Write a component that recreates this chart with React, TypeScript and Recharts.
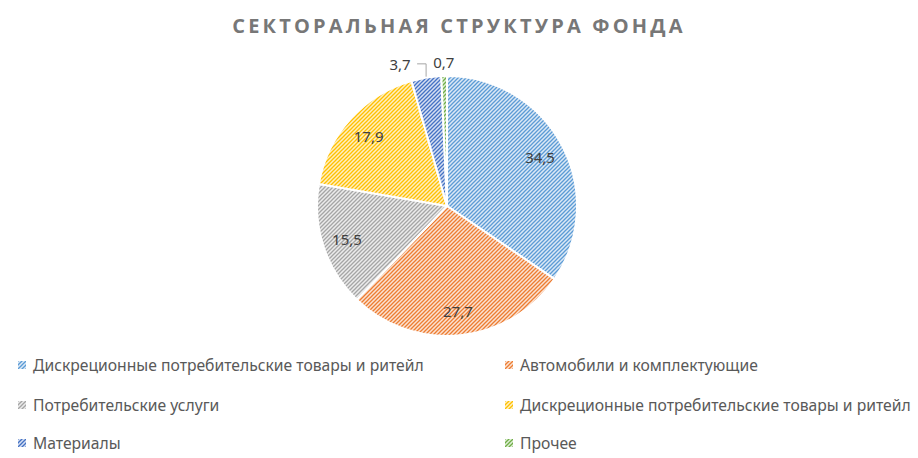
import React from "react";
import { Cell, Pie, PieChart } from "recharts";

const sectors = [
  "Дискреционные потребительские товары и ритейл",
  "Автомобили и комплектующие",
  "Потребительские услуги",
  "Дискреционные потребительские товары и ритейл",
  "Материалы",
  "Прочее",
];
const shares = [34.5, 27.7, 15.5, 17.9, 3.7, 0.7];
const lineColors = ["#5B9BD5", "#ED7D31", "#A5A5A5", "#FFC000", "#4472C4", "#70AD47"];
const backColors = ["#DCE9F6", "#FBE2D3", "#ECECEC", "#FFF0C2", "#D6DFF2", "#DFEFD6"];

const CX = 447;
const CY = 206;
const R = 130;
const RAD = Math.PI / 180;

const data = sectors.map((name, i) => ({ name, value: shares[i] }));

function fmt(v: number) {
  return v.toFixed(1).replace(".", ",");
}

function Patterns() {
  return (
    <svg width={0} height={0} style={{ position: "absolute" }}>
      <defs>
        {lineColors.map((c, i) => (
          <pattern key={i} id={"hatch" + i} width={4} height={4} patternUnits="userSpaceOnUse">
            <rect width={4} height={4} fill={backColors[i]} />
            <path d="M-1,1 l2,-2 M0,4 l4,-4 M3,5 l2,-2" stroke={c} strokeWidth={1.3} />
          </pattern>
        ))}
      </defs>
    </svg>
  );
}

const renderLabel = (props: any) => {
  const { cx, cy, midAngle, outerRadius, value, index } = props;
  const cos = Math.cos(-midAngle * RAD);
  const sin = Math.sin(-midAngle * RAD);
  let x, y;
  if (value > 5) {
    x = cx + outerRadius * 0.81 * cos;
    y = cy + outerRadius * 0.81 * sin;
  } else {
    x = cx + (outerRadius + 14) * cos;
    y = cy + (outerRadius + 14) * sin;
    if (index === 4) x -= 24;
  }
  return (
    <text
      x={x}
      y={y}
      textAnchor="middle"
      dominantBaseline="central"
      fill="#404040"
      fontSize={15}
      fontFamily="'Noto Sans', sans-serif"
    >
      {fmt(value)}
    </text>
  );
};

const renderLine = (props: any) => {
  const { cx, cy, midAngle, outerRadius, index } = props;
  if (index !== 4) return <g />;
  const cos = Math.cos(-midAngle * RAD);
  const sin = Math.sin(-midAngle * RAD);
  const ex = cx + (outerRadius + 1) * cos;
  const ey = cy + (outerRadius + 1) * sin;
  const ly = cy + (outerRadius + 14) * sin;
  return (
    <path
      d={`M${ex - 9},${ly} L${ex},${ly} L${ex},${ey}`}
      stroke="#A6A6A6"
      strokeWidth={1}
      fill="none"
    />
  );
};

const legendRows = [365, 405, 443];

export default function App() {
  return (
    <div
      style={{
        position: "absolute",
        left: 0,
        top: 0,
        width: 918,
        height: 458,
        background: "#ffffff",
        fontFamily: "'Noto Sans', sans-serif",
      }}
    >
      <Patterns />
      <div
        style={{
          position: "absolute",
          top: 12,
          left: 0,
          width: 918,
          textAlign: "center",
          fontFamily: "'Open Sans', sans-serif",
          fontWeight: 700,
          fontSize: 20,
          letterSpacing: 3.2,
          color: "#777777",
        }}
      >
        СЕКТОРАЛЬНАЯ СТРУКТУРА ФОНДА
      </div>
      <div style={{ position: "absolute", left: 0, top: 0 }}>
        <PieChart width={918} height={340} margin={{ top: 0, right: 0, bottom: 0, left: 0 }}>
          <Pie
            data={data}
            dataKey="value"
            nameKey="name"
            cx={CX}
            cy={CY}
            outerRadius={R}
            startAngle={90}
            endAngle={-270}
            stroke="#ffffff"
            strokeWidth={2}
            label={renderLabel}
            labelLine={renderLine}
            isAnimationActive={false}
          >
            {data.map((d, i) => (
              <Cell key={i} fill={`url(#hatch${i})`} />
            ))}
          </Pie>
        </PieChart>
      </div>
      {data.map((d, i) => {
        const col = i % 2;
        const row = Math.floor(i / 2);
        const left = col === 0 ? 18 : 505;
        return (
          <div
            key={i}
            style={{
              position: "absolute",
              left,
              top: legendRows[row] - 11,
              height: 22,
              display: "flex",
              alignItems: "center",
              fontSize: 15.7,
              color: "#595959",
              whiteSpace: "nowrap",
            }}
          >
            <svg width={8} height={8} style={{ marginRight: 7 }}>
              <rect width={8} height={8} fill={`url(#hatch${i})`} />
            </svg>
            {d.name}
          </div>
        );
      })}
    </div>
  );
}
